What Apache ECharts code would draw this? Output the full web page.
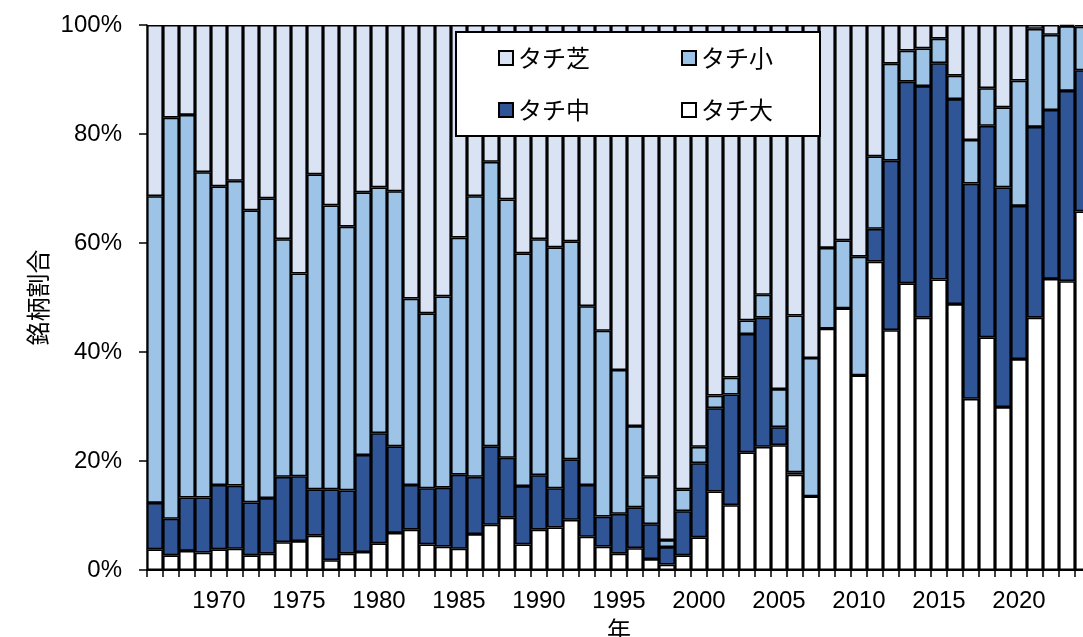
<!DOCTYPE html>
<html>
<head>
<meta charset="utf-8">
<script src="https://cdn.jsdelivr.net/npm/echarts@6/dist/echarts.min.js"></script>
<style>
html,body{margin:0;padding:0;background:#fff;}
#chart{width:1083px;height:637px;}
</style>
</head>
<body>
<div id="chart"></div>
<script>
// Categories (years)
const years = [];
for (let y = 1966; y <= 2024; y++) years.push(String(y));

// Series values (% share of each category per year)
const taichiDai = [3.8,2.7,3.5,3.2,3.8,3.9,2.7,3.0,5.1,5.3,
  6.3,1.8,3.0,3.3,4.9,6.8,7.4,4.7,4.3,3.9,
  6.6,8.3,9.6,4.7,7.4,7.8,9.2,6.1,4.3,3.0,
  4.0,2.0,1.0,2.7,6.0,14.4,11.9,21.6,22.6,22.9,
  17.5,13.5,44.3,48.0,35.7,56.6,44.0,52.6,46.3,53.3,
  48.8,31.4,42.7,29.9,38.7,46.3,53.4,53.0,65.8];
const taichiChu = [8.5,6.7,9.8,10.1,11.8,11.6,9.7,10.2,12.0,11.9,
  8.5,13.0,11.6,17.8,20.2,15.9,8.2,10.3,10.8,13.6,
  10.5,14.4,11.0,10.7,10.0,7.2,11.1,9.5,5.5,7.3,
  7.5,6.4,3.2,8.1,13.6,15.3,20.3,21.7,23.7,3.3,
  0.4,0,0,0,0,6.0,31.1,37.0,42.5,39.7,
  37.6,39.5,38.8,40.3,28.1,35.0,31.0,34.9,25.9];
const taichiSho = [56.3,73.6,70.2,59.7,54.8,55.9,53.6,55.0,43.6,37.2,
  57.8,52.1,48.4,48.2,45.1,46.8,34.2,32.1,35.1,43.5,
  51.5,52.2,47.4,42.7,43.3,44.2,40.0,32.8,34.1,26.4,
  14.9,8.7,1.3,4.0,3.0,2.3,3.1,2.5,4.2,7.0,
  28.8,25.4,14.8,12.5,21.8,13.3,17.8,5.7,6.9,4.5,
  4.3,8.0,6.9,14.7,23.0,18.0,13.8,11.9,8.0];
const taichiShiba = [31.4,17.0,16.5,27.0,29.6,28.6,34.0,31.8,39.3,45.6,
  27.4,33.1,37.0,30.7,29.8,30.5,50.2,52.9,49.8,39.0,
  31.4,25.1,32.0,41.9,39.3,40.8,39.7,51.6,56.1,63.3,
  73.6,82.9,94.5,85.2,77.4,68.0,64.7,54.2,49.5,66.8,
  53.3,61.1,40.9,39.5,42.5,24.1,7.1,4.7,4.3,2.5,
  9.3,21.1,11.6,15.1,10.2,0.7,1.8,0.2,0.3];
const yTicks = [0,20,40,60,80,100];

const FONT = '"Liberation Sans", Arial, sans-serif';
const JFONT = '"Noto Sans CJK JP", sans-serif';

const chart = echarts.init(document.getElementById('chart'), null, {renderer:'canvas'});

function mk(name, data, color) {
  return {
    name: name, type: 'bar', stack: 'total', data: data,
    barCategoryGap: '0%',
    itemStyle: {color: color, borderColor: '#000', borderWidth: 1.6},
    emphasis: {disabled: true}
  };
}

const legendCommon = {
  orient: 'horizontal', left: 498, padding: 0, itemGap: 91,
  itemWidth: 14, itemHeight: 14, icon: 'rect', z: 20,
  textStyle: {fontFamily: JFONT, fontSize: 24, color: '#000', padding: [0,0,0,0]},
  selectedMode: false
};

chart.setOption({
  animation: false,
  backgroundColor: '#fff',
  grid: {left: 147, top: 25, width: 944, height: 545, containLabel: false, outerBoundsMode: 'none'},
  graphic: [{
    type: 'rect', z: 10,
    shape: {x: 456, y: 32, width: 364, height: 104},
    style: {fill: '#fff', stroke: '#000', lineWidth: 2}
  }],
  legend: [
    Object.assign({}, legendCommon, {top: 46, data: ['タチ芝','タチ小']}),
    Object.assign({}, legendCommon, {top: 98, data: ['タチ中','タチ大']})
  ],
  xAxis: {
    type: 'category', data: years, boundaryGap: true,
    name: '年', nameLocation: 'middle', nameGap: 46,
    nameTextStyle: {fontFamily: JFONT, fontSize: 24, color: '#000'},
    axisLine: {lineStyle: {color: '#000', width: 2}},
    axisTick: {show: true, interval: 0, length: 7, lineStyle: {color: '#000', width: 1.5}},
    axisLabel: {
      interval: function (idx, val) { return Number(val) % 5 === 0; },
      fontFamily: FONT, fontSize: 24, color: '#000', margin: 19
    },
    splitLine: {show: false}
  },
  yAxis: {
    type: 'value', min: 0, max: 100, interval: 20,
    name: '銘柄割合', nameLocation: 'middle', nameRotate: 90, nameGap: 95,
    nameTextStyle: {fontFamily: JFONT, fontSize: 24, color: '#000'},
    axisLine: {show: true, lineStyle: {color: '#000', width: 1.5}},
    axisTick: {show: true, length: 8, lineStyle: {color: '#000', width: 1.5}},
    axisLabel: {
      formatter: function (v) { return yTicks.indexOf(v) >= 0 ? v + '%' : ''; },
      fontFamily: FONT, fontSize: 24, color: '#000', margin: 25
    },
    splitLine: {show: false}
  },
  series: [
    mk('タチ大', taichiDai, '#FFFFFF'),
    mk('タチ中', taichiChu, '#2F5597'),
    mk('タチ小', taichiSho, '#9DC3E6'),
    mk('タチ芝', taichiShiba, '#DAE3F3')
  ]
});
</script>
</body>
</html>
